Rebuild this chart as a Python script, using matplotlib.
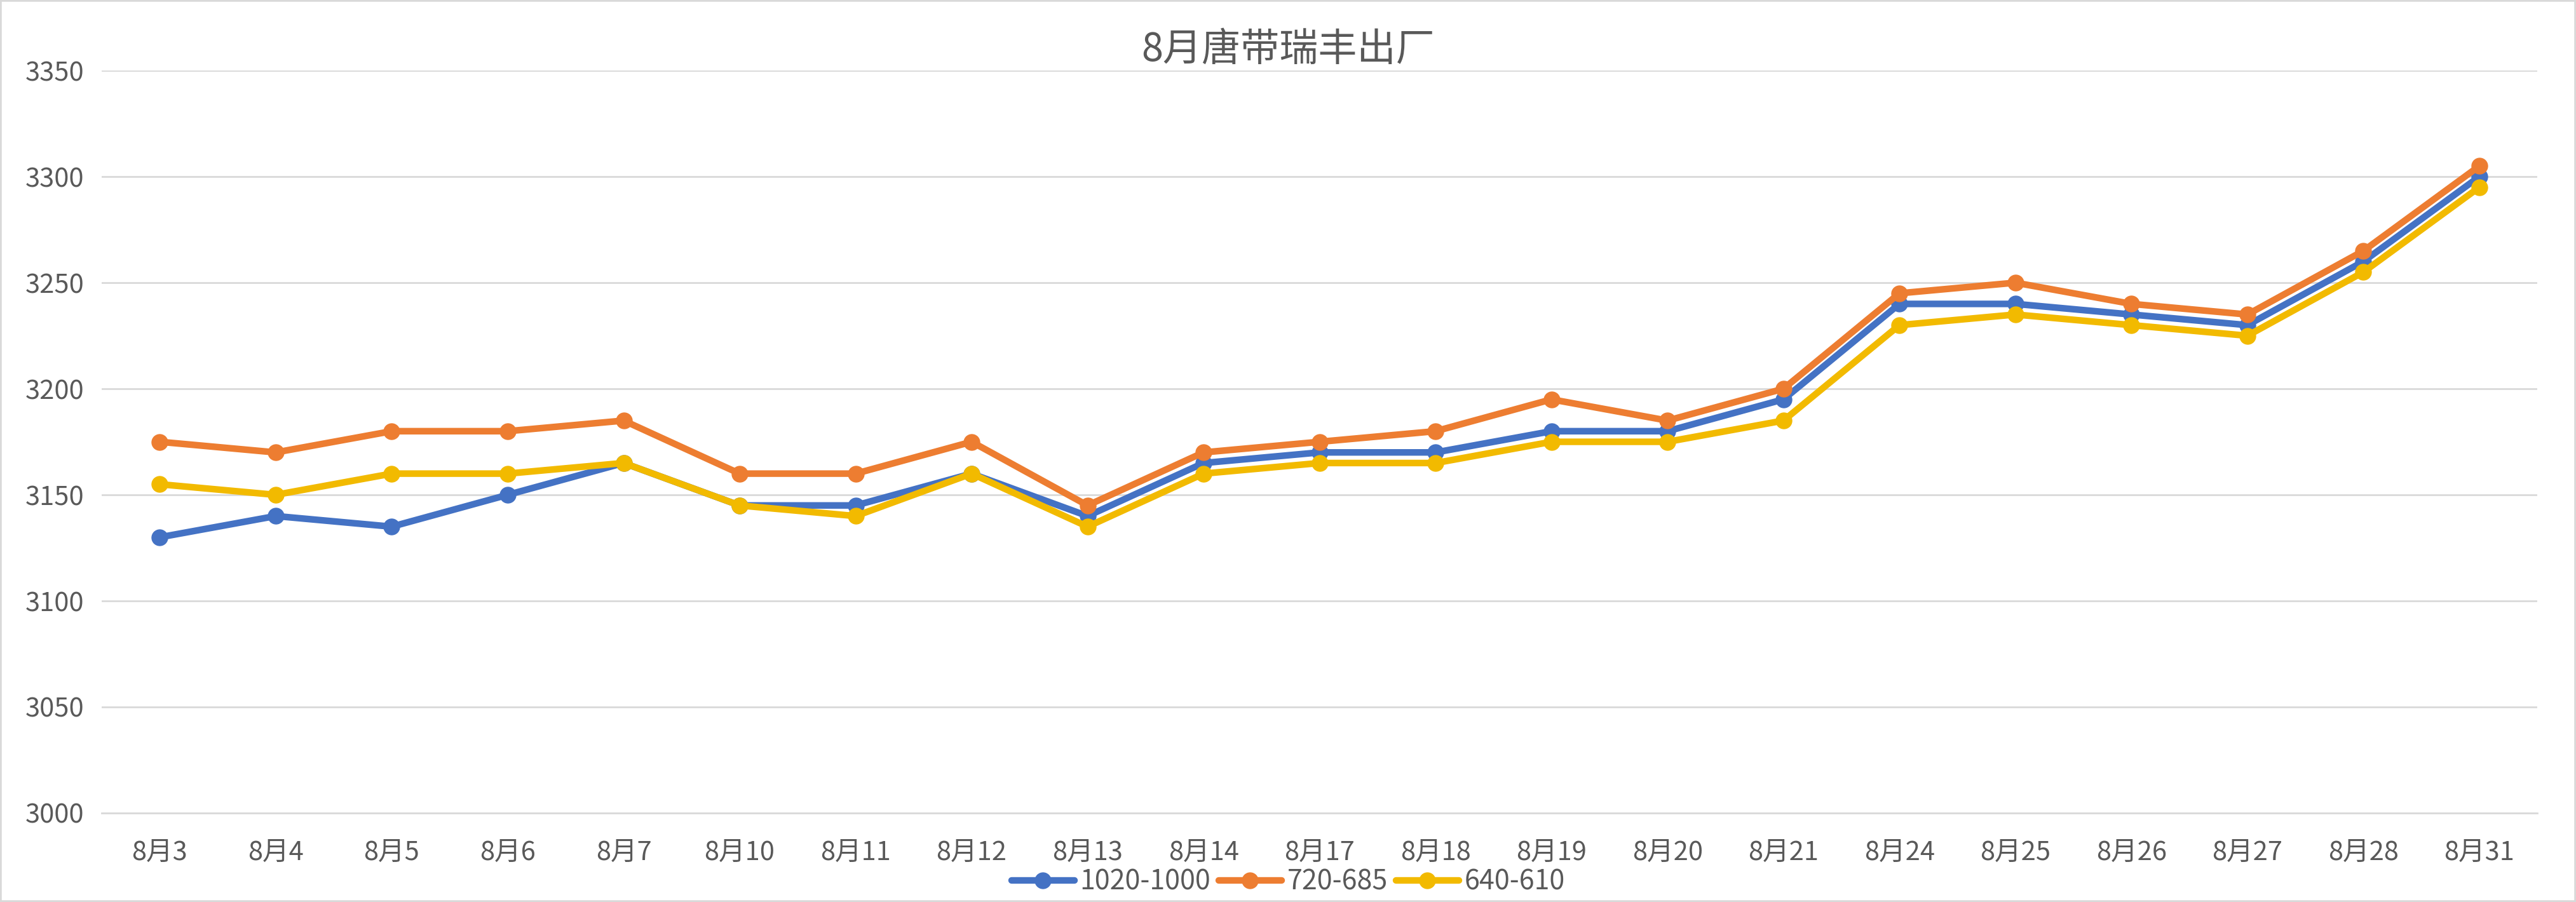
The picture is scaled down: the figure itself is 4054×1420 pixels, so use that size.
import matplotlib.pyplot as plt
from matplotlib.patches import Rectangle

plt.rcParams['font.family'] = ['Noto Sans CJK SC', 'DejaVu Sans']

# 数据
dates = ['8月3', '8月4', '8月5', '8月6', '8月7', '8月10', '8月11', '8月12', '8月13',
         '8月14', '8月17', '8月18', '8月19', '8月20', '8月21', '8月24', '8月25',
         '8月26', '8月27', '8月28', '8月31']
s_1020 = [3130, 3140, 3135, 3150, 3165, 3145, 3145, 3160, 3140, 3165, 3170,
          3170, 3180, 3180, 3195, 3240, 3240, 3235, 3230, 3260, 3300]
s_720 = [3175, 3170, 3180, 3180, 3185, 3160, 3160, 3175, 3145, 3170, 3175,
         3180, 3195, 3185, 3200, 3245, 3250, 3240, 3235, 3265, 3305]
s_640 = [3155, 3150, 3160, 3160, 3165, 3145, 3140, 3160, 3135, 3160, 3165,
         3165, 3175, 3175, 3185, 3230, 3235, 3230, 3225, 3255, 3295]

series = [('1020-1000', s_1020, '#4472C4'),
          ('720-685', s_720, '#ED7D31'),
          ('640-610', s_640, '#F2BA00')]

fig = plt.figure(figsize=(40.54, 14.2), dpi=100)
ax = fig.add_axes([0.0395, 0.0986, 0.9455, 0.8232])

x = range(len(dates))
for name, vals, col in series:
    ax.plot(x, vals, color=col, lw=7.5, marker='o', ms=18, label=name,
            solid_capstyle='round')

ax.set_xlim(-0.5, len(dates) - 0.5)
ax.set_ylim(3000, 3350)
ax.set_yticks(range(3000, 3351, 50))
ax.set_xticks(list(x))
ax.set_xticklabels(dates)
ax.grid(axis='y', color='#D9D9D9', lw=2)
ax.set_axisbelow(True)
for s in ['top', 'right', 'left']:
    ax.spines[s].set_visible(False)
ax.spines['bottom'].set_color('#D9D9D9')
ax.spines['bottom'].set_linewidth(2)
ax.tick_params(axis='both', length=0, labelsize=30, colors='#595959', pad=30)
ax.tick_params(axis='y', pad=20)

fig.text(0.5, 0.945, '8月唐带瑞丰出厂', ha='center', va='center',
         fontsize=44, color='#595959')

ax.legend(loc='center', ncol=3, frameon=False, fontsize=31, handlelength=2.3,
          handletextpad=0.2, columnspacing=0.3, labelcolor='#595959')
leg = ax.get_legend()
leg.set_bbox_to_anchor((0.5, 0.022), transform=fig.transFigure)

fig.patches.append(Rectangle((0, 0), 1, 1, transform=fig.transFigure,
                             fill=False, edgecolor='#D9D9D9', lw=4))

fig.savefig('out.png', dpi=100)
